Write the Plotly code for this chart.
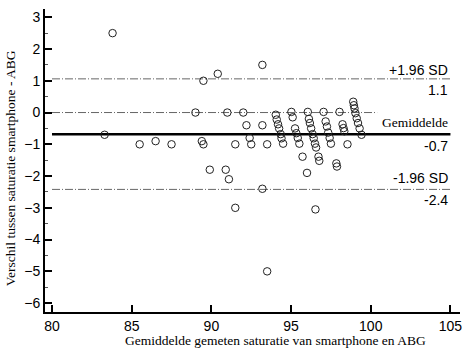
import plotly.graph_objects as go

# Bland-Altman points: mean saturation (x) and difference smartphone - ABG (y)
mean_sat = [83.8, 83.3, 85.5, 86.5, 87.5, 89.4, 89.5, 89.5, 90.4, 89.0, 91.0, 92.0,
            92.2, 93.2, 92.4, 92.5, 91.5, 93.5, 93.2, 89.9, 90.9, 91.1, 93.2, 91.5, 93.5,
            # column ~94
            94.04, 94.1, 94.18, 94.25, 94.35, 94.4, 94.5,
            # column ~95
            95.02, 95.1, 95.25, 95.33, 95.42, 95.52, 95.72, 96.0, 96.53,
            # column ~96
            96.05, 96.12, 96.18, 96.26, 96.35, 96.42, 96.5, 96.57, 96.72, 96.77,
            # column ~97
            97.04, 97.17, 97.25, 97.33, 97.42, 97.5, 97.84, 97.88,
            # column ~98
            98.04, 98.23, 98.29, 98.34, 98.54,
            # column ~99
            98.9, 98.94, 98.98, 99.04, 99.12, 99.2, 99.3, 99.42]
diff_sat = [2.5, -0.7, -1.0, -0.9, -1.0, -0.9, -1.0, 1.0, 1.22, 0.0, 0.0, 0.0,
            -0.4, -0.4, -0.8, -1.0, -1.0, -1.0, 1.5, -1.8, -1.8, -2.1, -2.4, -3.0, -5.0,
            -0.07, -0.22, -0.37, -0.5, -0.68, -0.81, -0.98,
            0.02, -0.15, -0.5, -0.65, -0.8, -0.98, -1.39, -1.9, -3.05,
            0.02, -0.2, -0.33, -0.5, -0.68, -0.81, -0.98, -1.1, -1.39, -1.52,
            0.02, -0.28, -0.44, -0.63, -0.8, -0.98, -1.6, -1.7,
            0.02, -0.37, -0.49, -0.59, -1.0,
            0.34, 0.23, 0.13, -0.02, -0.18, -0.33, -0.5, -0.7]

mean_diff = -0.68
upper_loa = 1.06
lower_loa = -2.42
zero_end = 100.4
line_start = 80
line_end = 105

x_ticks = [80, 85, 90, 95, 100, 105]
y_ticks = [-6, -5, -4, -3, -2, -1, 0, 1, 2, 3]

x_title = "Gemiddelde gemeten saturatie van smartphone en ABG"
y_title = "Verschil tussen saturatie smartphone - ABG"

serif = "Liberation Serif, Times New Roman, serif"
sans = "Liberation Sans, Arial, sans-serif"

fig = go.Figure()
dashpat = "8px,2px,1px,2px"
fig.add_trace(go.Scatter(x=[line_start, line_end], y=[upper_loa, upper_loa], mode="lines",
                         line=dict(color="#666", width=1, dash=dashpat), hoverinfo="skip"))
fig.add_trace(go.Scatter(x=[line_start, zero_end], y=[0, 0], mode="lines",
                         line=dict(color="#666", width=1, dash=dashpat), hoverinfo="skip"))
fig.add_trace(go.Scatter(x=[line_start, line_end], y=[lower_loa, lower_loa], mode="lines",
                         line=dict(color="#666", width=1, dash=dashpat), hoverinfo="skip"))
fig.add_trace(go.Scatter(x=[line_start, line_end], y=[mean_diff, mean_diff], mode="lines",
                         line=dict(color="black", width=2.5), hoverinfo="skip"))
fig.add_trace(go.Scatter(x=mean_sat, y=diff_sat, mode="markers",
                         marker=dict(symbol="circle-open", size=7.5, color="#222",
                                     line=dict(width=1, color="#222"))))

labels = [
    ("+1.96 SD", upper_loa, 9, sans, 14),
    ("1.1", upper_loa, -11, sans, 14),
    ("Gemiddelde", mean_diff, 12, serif, 13.5),
    ("-0.7", mean_diff, -12, sans, 14),
    ("-1.96 SD", lower_loa, 11, sans, 14),
    ("-2.4", lower_loa, -11, sans, 14),
]
for txt, yv, shift, fam, sz in labels:
    fig.add_annotation(x=line_end, y=yv, text=txt, showarrow=False, xanchor="right",
                       yanchor="middle", yshift=shift, font=dict(family=fam, size=sz, color="black"))

fig.add_annotation(x=0.556, y=-0.095, xref="paper", yref="paper", text=x_title,
                   showarrow=False, xanchor="center", yanchor="middle",
                   font=dict(family=serif, size=13.5, color="black"))
fig.add_annotation(x=-0.084, y=0.475, xref="paper", yref="paper", text=y_title,
                   showarrow=False, textangle=-90, xanchor="center", yanchor="middle",
                   font=dict(family=serif, size=13.5, color="black"))

fig.update_layout(
    width=471, height=350,
    margin=dict(l=45, r=9, t=9, b=38),
    paper_bgcolor="white", plot_bgcolor="white",
    showlegend=False,
    font=dict(family=sans, size=14, color="black"),
    xaxis=dict(range=[79.56, 105.6], tickvals=x_ticks, ticks="inside", ticklen=7,
               tickwidth=2, tickcolor="black", showline=True, linewidth=2, linecolor="black",
               showgrid=False, zeroline=False, tickfont=dict(family=sans, size=14)),
    yaxis=dict(range=[-6.28, 3.26], tickvals=y_ticks, ticks="inside", ticklen=7,
               tickwidth=2, tickcolor="black", showline=True, linewidth=2, linecolor="black",
               showgrid=False, zeroline=False, tickfont=dict(family=sans, size=14),
               minor=dict(ticks="inside", ticklen=3, tickwidth=1, tickcolor="#555",
                          tickvals=[-5.5, -4.5, -3.5, -2.5, -1.5, -0.5, 0.5, 1.5, 2.5])),
)

fig.write_html("out.html")
